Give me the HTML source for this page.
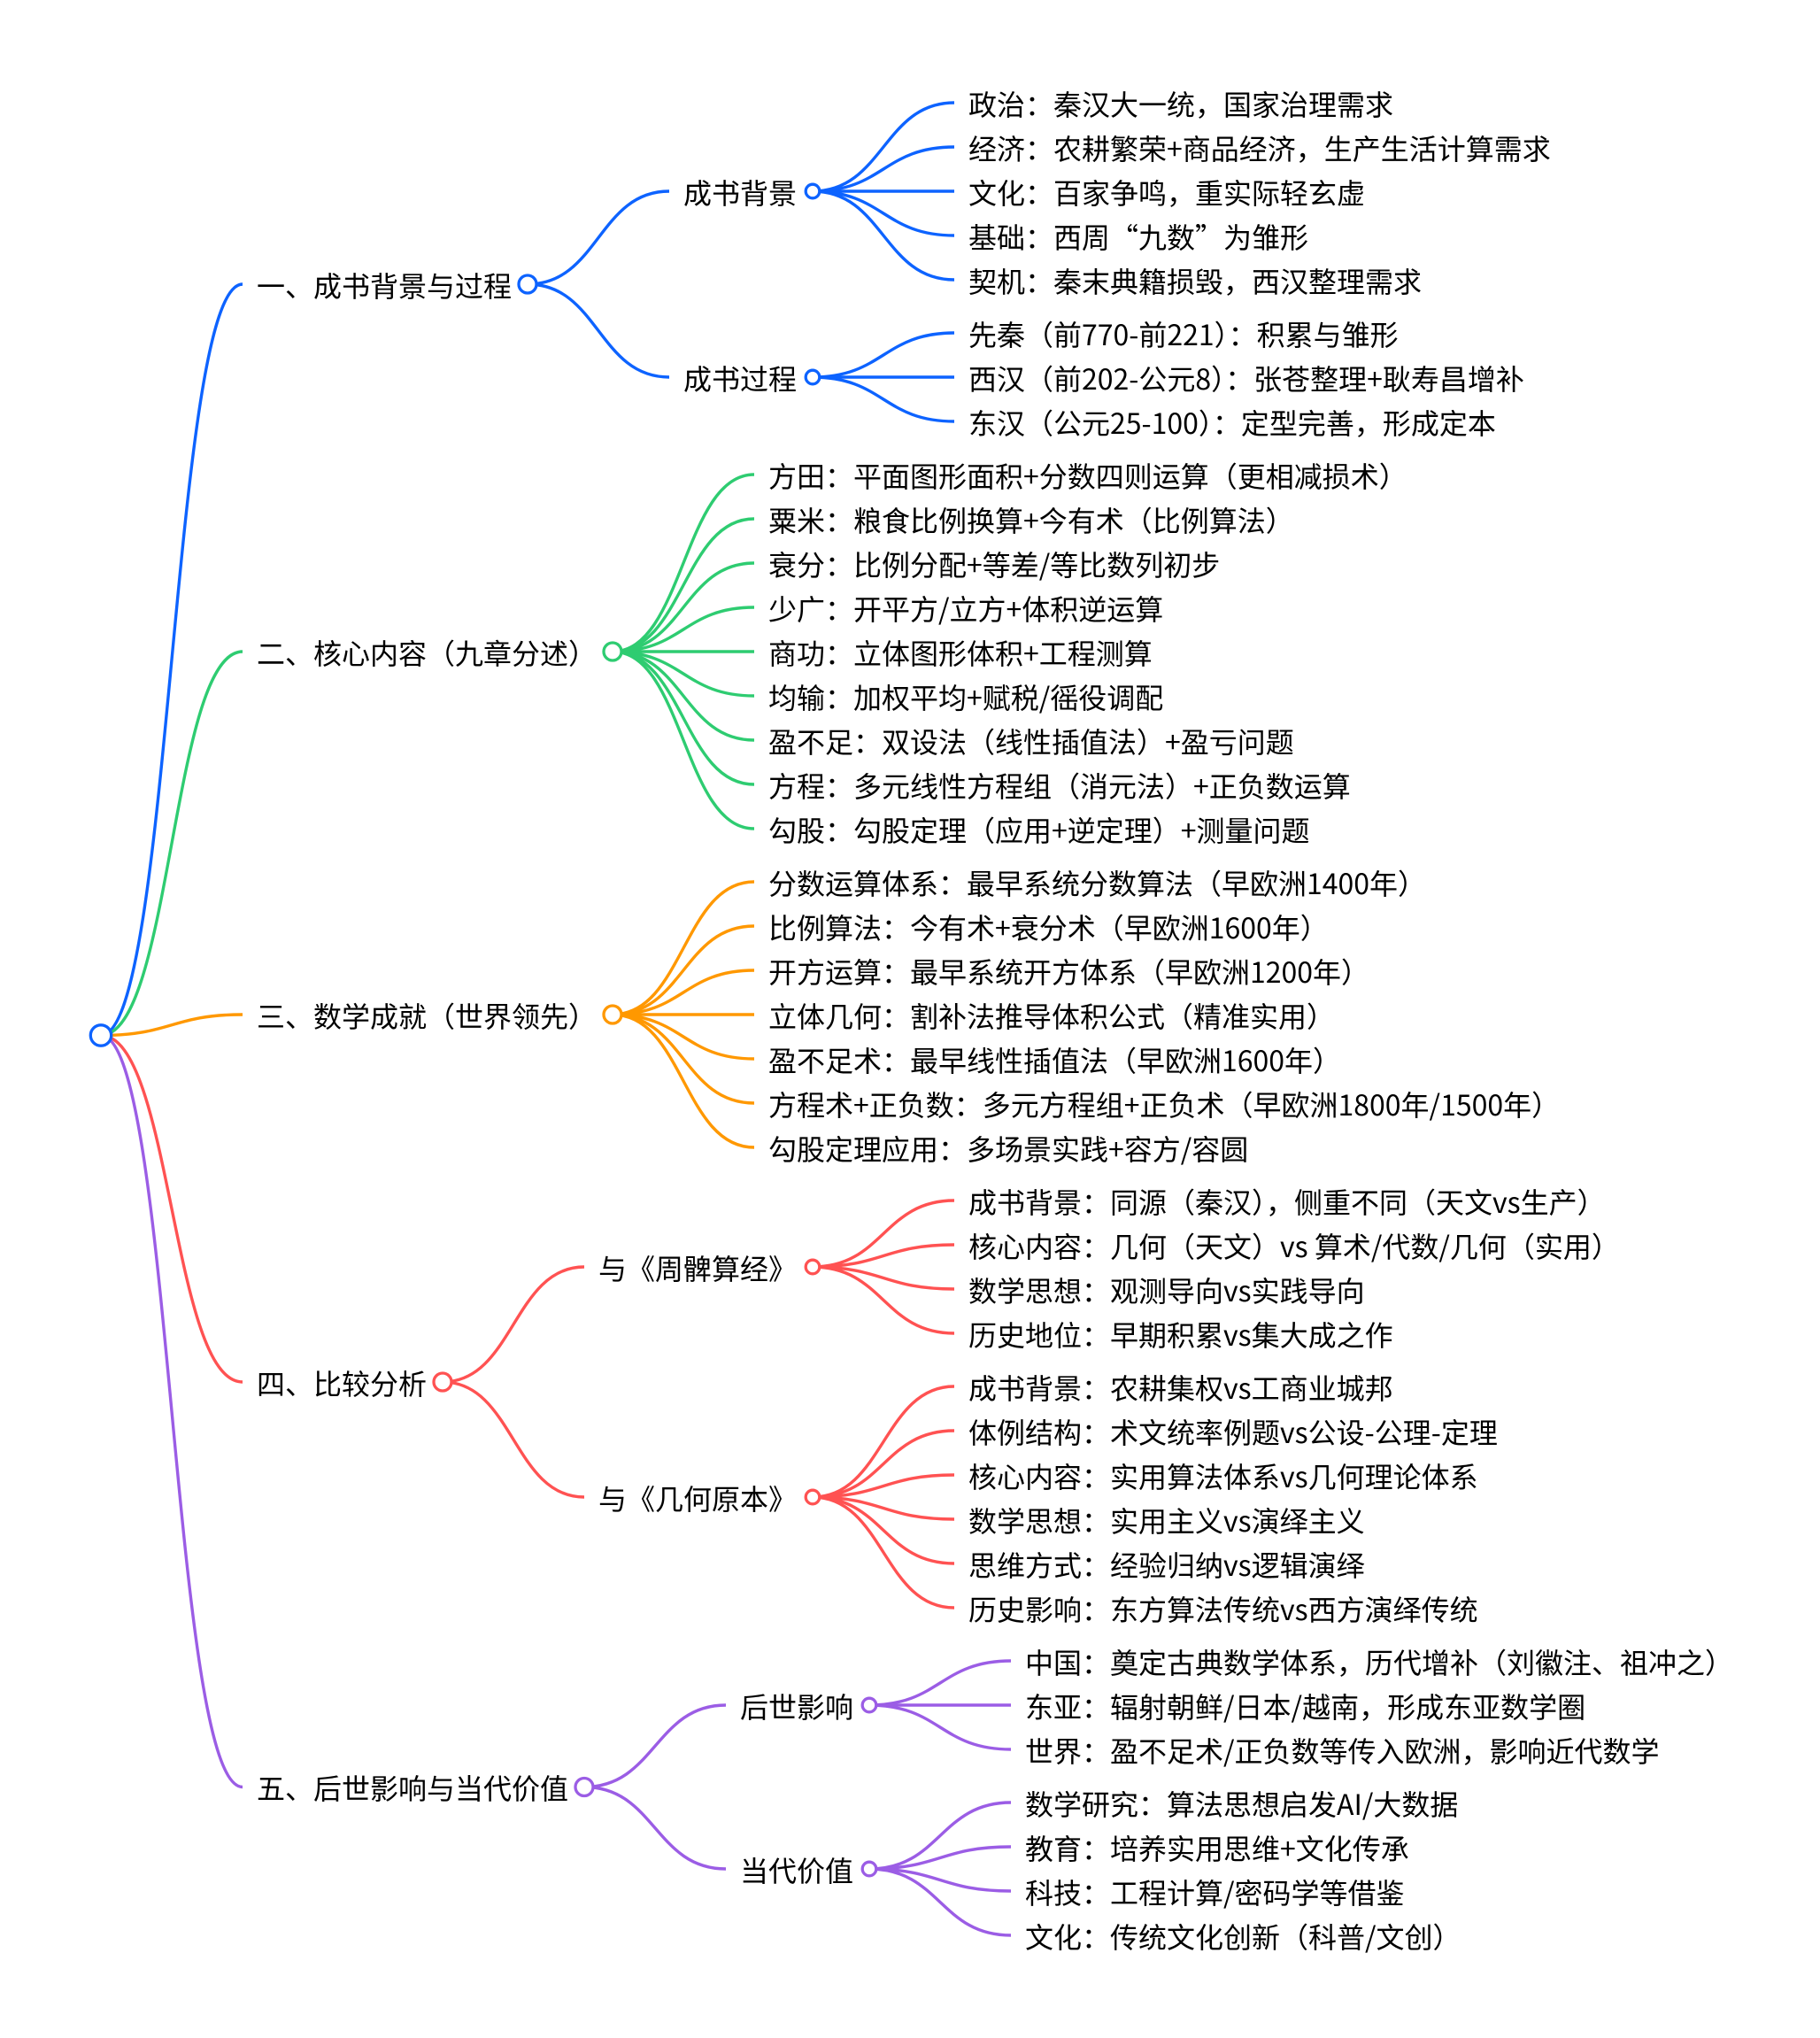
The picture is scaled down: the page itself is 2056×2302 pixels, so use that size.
<!DOCTYPE html>
<html lang="zh-CN">
<head>
<meta charset="utf-8">
<title>九章算术</title>
<style>
html,body{margin:0;padding:0;background:#fff;width:2056px;height:2302px;overflow:hidden}
svg{display:block}
text{font-family:"Noto Sans CJK SC","Liberation Sans",sans-serif;font-size:32px;fill:#000}
path{fill:none;stroke-linecap:butt}
circle{fill:#fff}
</style>
</head>
<body>
<svg width="2056" height="2302" viewBox="0 0 2056 2302" xmlns="http://www.w3.org/2000/svg">
<g stroke="#0d63ff" stroke-width="3.4">
<path d="M114 1169.5C194 1169.5 194 321 274 321"/>
<path d="M596 321C676 321 676 216 756 216"/>
<path d="M596 321C676 321 676 426 756 426"/>
<path d="M918 216C998 216 998 116 1078 116"/>
<path d="M918 216C998 216 998 166 1078 166"/>
<path d="M918 216C998 216 998 216 1078 216"/>
<path d="M918 216C998 216 998 266 1078 266"/>
<path d="M918 216C998 216 998 316 1078 316"/>
<path d="M918 426C998 426 998 376 1078 376"/>
<path d="M918 426C998 426 998 426 1078 426"/>
<path d="M918 426C998 426 998 476 1078 476"/>
</g>
<g stroke="#2ecc71" stroke-width="3.4">
<path d="M114 1169.5C194 1169.5 194 736 274 736"/>
<path d="M692 736C772 736 772 536 852 536"/>
<path d="M692 736C772 736 772 586 852 586"/>
<path d="M692 736C772 736 772 636 852 636"/>
<path d="M692 736C772 736 772 686 852 686"/>
<path d="M692 736C772 736 772 736 852 736"/>
<path d="M692 736C772 736 772 786 852 786"/>
<path d="M692 736C772 736 772 836 852 836"/>
<path d="M692 736C772 736 772 886 852 886"/>
<path d="M692 736C772 736 772 936 852 936"/>
</g>
<g stroke="#ff9800" stroke-width="3.4">
<path d="M114 1169.5C194 1169.5 194 1146 274 1146"/>
<path d="M692 1146C772 1146 772 996 852 996"/>
<path d="M692 1146C772 1146 772 1046 852 1046"/>
<path d="M692 1146C772 1146 772 1096 852 1096"/>
<path d="M692 1146C772 1146 772 1146 852 1146"/>
<path d="M692 1146C772 1146 772 1196 852 1196"/>
<path d="M692 1146C772 1146 772 1246 852 1246"/>
<path d="M692 1146C772 1146 772 1296 852 1296"/>
</g>
<g stroke="#ff5252" stroke-width="3.4">
<path d="M114 1169.5C194 1169.5 194 1561 274 1561"/>
<path d="M500 1561C580 1561 580 1431 660 1431"/>
<path d="M500 1561C580 1561 580 1691 660 1691"/>
<path d="M918 1431C998 1431 998 1356 1078 1356"/>
<path d="M918 1431C998 1431 998 1406 1078 1406"/>
<path d="M918 1431C998 1431 998 1456 1078 1456"/>
<path d="M918 1431C998 1431 998 1506 1078 1506"/>
<path d="M918 1691C998 1691 998 1566 1078 1566"/>
<path d="M918 1691C998 1691 998 1616 1078 1616"/>
<path d="M918 1691C998 1691 998 1666 1078 1666"/>
<path d="M918 1691C998 1691 998 1716 1078 1716"/>
<path d="M918 1691C998 1691 998 1766 1078 1766"/>
<path d="M918 1691C998 1691 998 1816 1078 1816"/>
</g>
<g stroke="#9b5de5" stroke-width="3.4">
<path d="M114 1169.5C194 1169.5 194 2018.5 274 2018.5"/>
<path d="M660 2018.5C740 2018.5 740 1926 820 1926"/>
<path d="M660 2018.5C740 2018.5 740 2111 820 2111"/>
<path d="M982 1926C1062 1926 1062 1876 1142 1876"/>
<path d="M982 1926C1062 1926 1062 1926 1142 1926"/>
<path d="M982 1926C1062 1926 1062 1976 1142 1976"/>
<path d="M982 2111C1062 2111 1062 2036 1142 2036"/>
<path d="M982 2111C1062 2111 1062 2086 1142 2086"/>
<path d="M982 2111C1062 2111 1062 2136 1142 2136"/>
<path d="M982 2111C1062 2111 1062 2186 1142 2186"/>
</g>
<g stroke-width="3.3">
<circle cx="114" cy="1169.5" r="11.7" stroke="#0d63ff"/>
<circle cx="596" cy="321" r="10" stroke="#0d63ff"/>
<circle cx="918" cy="216" r="7.8" stroke="#0d63ff"/>
<circle cx="918" cy="426" r="7.8" stroke="#0d63ff"/>
<circle cx="692" cy="736" r="10" stroke="#2ecc71"/>
<circle cx="692" cy="1146" r="10" stroke="#ff9800"/>
<circle cx="500" cy="1561" r="10" stroke="#ff5252"/>
<circle cx="918" cy="1431" r="7.8" stroke="#ff5252"/>
<circle cx="918" cy="1691" r="7.8" stroke="#ff5252"/>
<circle cx="660" cy="2018.5" r="10" stroke="#9b5de5"/>
<circle cx="982" cy="1926" r="7.8" stroke="#9b5de5"/>
<circle cx="982" cy="2111" r="7.8" stroke="#9b5de5"/>
</g>
<text x="290" y="335">一、成书背景与过程</text>
<text x="290" y="750">二、核心内容（九章分述）</text>
<text x="290" y="1160">三、数学成就（世界领先）</text>
<text x="290" y="1575">四、比较分析</text>
<text x="290" y="2032">五、后世影响与当代价值</text>
<text x="772" y="230">成书背景</text>
<text x="772" y="440">成书过程</text>
<text x="676" y="1445">与《周髀算经》</text>
<text x="676" y="1705">与《几何原本》</text>
<text x="836" y="1940">后世影响</text>
<text x="836" y="2125">当代价值</text>
<text x="1094" y="130">政治：秦汉大一统，国家治理需求</text>
<text x="1094" y="180">经济：农耕繁荣+商品经济，生产生活计算需求</text>
<text x="1094" y="230">文化：百家争鸣，重实际轻玄虚</text>
<text x="1094" y="280">基础：西周“九数”为雏形</text>
<text x="1094" y="330">契机：秦末典籍损毁，西汉整理需求</text>
<text x="1094" y="390">先秦（前770-前221）：积累与雏形</text>
<text x="1094" y="440">西汉（前202-公元8）：张苍整理+耿寿昌增补</text>
<text x="1094" y="490">东汉（公元25-100）：定型完善，形成定本</text>
<text x="868" y="550">方田：平面图形面积+分数四则运算（更相减损术）</text>
<text x="868" y="600">粟米：粮食比例换算+今有术（比例算法）</text>
<text x="868" y="650">衰分：比例分配+等差/等比数列初步</text>
<text x="868" y="700">少广：开平方/立方+体积逆运算</text>
<text x="868" y="750">商功：立体图形体积+工程测算</text>
<text x="868" y="800">均输：加权平均+赋税/徭役调配</text>
<text x="868" y="850">盈不足：双设法（线性插值法）+盈亏问题</text>
<text x="868" y="900">方程：多元线性方程组（消元法）+正负数运算</text>
<text x="868" y="950">勾股：勾股定理（应用+逆定理）+测量问题</text>
<text x="868" y="1010">分数运算体系：最早系统分数算法（早欧洲1400年）</text>
<text x="868" y="1060">比例算法：今有术+衰分术（早欧洲1600年）</text>
<text x="868" y="1110">开方运算：最早系统开方体系（早欧洲1200年）</text>
<text x="868" y="1160">立体几何：割补法推导体积公式（精准实用）</text>
<text x="868" y="1210">盈不足术：最早线性插值法（早欧洲1600年）</text>
<text x="868" y="1260">方程术+正负数：多元方程组+正负术（早欧洲1800年/1500年）</text>
<text x="868" y="1310">勾股定理应用：多场景实践+容方/容圆</text>
<text x="1094" y="1370">成书背景：同源（秦汉），侧重不同（天文vs生产）</text>
<text x="1094" y="1420">核心内容：几何（天文）vs 算术/代数/几何（实用）</text>
<text x="1094" y="1470">数学思想：观测导向vs实践导向</text>
<text x="1094" y="1520">历史地位：早期积累vs集大成之作</text>
<text x="1094" y="1580">成书背景：农耕集权vs工商业城邦</text>
<text x="1094" y="1630">体例结构：术文统率例题vs公设-公理-定理</text>
<text x="1094" y="1680">核心内容：实用算法体系vs几何理论体系</text>
<text x="1094" y="1730">数学思想：实用主义vs演绎主义</text>
<text x="1094" y="1780">思维方式：经验归纳vs逻辑演绎</text>
<text x="1094" y="1830">历史影响：东方算法传统vs西方演绎传统</text>
<text x="1158" y="1890">中国：奠定古典数学体系，历代增补（刘徽注、祖冲之）</text>
<text x="1158" y="1940">东亚：辐射朝鲜/日本/越南，形成东亚数学圈</text>
<text x="1158" y="1990">世界：盈不足术/正负数等传入欧洲，影响近代数学</text>
<text x="1158" y="2050">数学研究：算法思想启发AI/大数据</text>
<text x="1158" y="2100">教育：培养实用思维+文化传承</text>
<text x="1158" y="2150">科技：工程计算/密码学等借鉴</text>
<text x="1158" y="2200">文化：传统文化创新（科普/文创）</text>
</svg>
</body>
</html>
